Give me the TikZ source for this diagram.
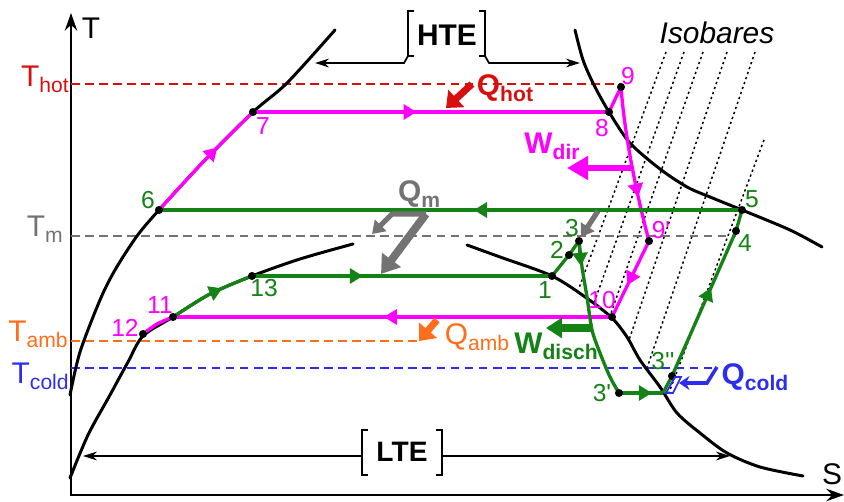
\documentclass[tikz,border=0pt]{standalone}
\usepackage{fontspec}
\setmainfont{Liberation Sans}
\usetikzlibrary{arrows.meta,decorations.markings}

\definecolor{pinkc}{RGB}{255,0,255}
\definecolor{greenc}{RGB}{20,130,20}
\definecolor{hotred}{RGB}{215,15,15}
\definecolor{ambor}{RGB}{255,110,25}
\definecolor{coldbl}{RGB}{45,45,240}
\definecolor{mgray}{RGB}{115,115,115}

\newcommand\bigf{\fontsize{17}{17}\selectfont}
\newcommand\numf{\fontsize{14}{14}\selectfont}
\newcommand\sbs[1]{\raisebox{-0.4ex}{\fontsize{12}{12}\selectfont #1}}
\newcommand\pr{\textquotesingle}

\begin{document}
\begin{tikzpicture}[x=0.2mm, y=-0.2mm,
    every node/.style={font=\bigf, inner sep=0pt},
    curve/.style={line width=1.7pt, line cap=round},
    pinkcyc/.style={pinkc, line width=1.9pt},
    greencyc/.style={greenc, line width=1.9pt},
    level/.style={dash pattern=on 5pt off 3pt, line width=1.4pt},
    isobar/.style={dash pattern=on 1.3pt off 1.7pt, line width=0.85pt},
    midarr/.style={postaction={decorate,decoration={markings,
        mark=at position #1 with {\arrow{Triangle[length=7.5pt,width=8.5pt]}}}}},
    cycarr/.style={-{Triangle[length=7.5pt,width=8.5pt]}},
    num/.style={font=\numf},
    bkt/.style={line width=1.6pt},
    span/.style={line width=1pt, -{Stealth[length=8pt,width=5pt]}}]
    \useasboundingbox (0,0) rectangle (844,502);

    % Isobars
    \foreach \xa/\ya/\xb/\yb in {666/52/579/288, 684/52/594/303, 703/52/610/316,
        727/52/629/340, 755/52/647/368, 764/140/667/398}
        \draw[isobar] (\xa,\ya) -- (\xb,\yb);

    % Axes
    \coordinate (org) at (71,495);
    \coordinate (ytip) at (71,13);
    \coordinate (xtip) at (844,495);
    \draw[line width=1.4pt, {Stealth[length=10pt,width=7pt]}-{Stealth[length=10pt,width=7pt]}]
        (ytip) -- (org) -- (xtip);
    \node (lT) at (91,28) {T};
    \node (lS) at (832,474) {S};

    % Temperature levels
    \draw[level, hotred] (71,84) -- (621,84);
    \draw[level, mgray] (71,236) -- (736,236);
    \draw[level, ambor] (71,341) -- (420,341);
    \draw[level, coldbl] (71,368) -- (717,368);
    \node[anchor=east, hotred] (thot) at (69,79) {T\sbs{hot}};
    \node[anchor=east, mgray] (tm) at (63,229) {T\sbs{m}};
    \node[anchor=east, ambor] (tamb) at (68,334) {T\sbs{amb}};
    \node[anchor=east, coldbl] (tcold) at (69,376) {T\sbs{cold}};

    % Saturation curves
    \draw[curve] plot[smooth] coordinates {(70,395) (80,352) (100,300) (115,270)
        (137,236) (159,210) (205,160) (253,112) (287,83) (335,30)};
    \draw[curve] plot[smooth] coordinates {(575,30) (583,60) (594,85) (609,112)
        (630,143) (660,169) (687,187) (710,197) (742,210) (790,230) (822,247)};
    \draw[curve] plot[smooth] coordinates {(70,478) (88,435) (110,395) (128,362)
        (143,336) (173,317) (210,294) (252,276) (300,259) (353,244)};
    \draw[curve] plot[smooth] coordinates {(467,245) (500,257) (552,276) (588,299)
        (612,318) (627,337) (640,360) (660,387) (677,413) (700,433) (727,453)
        (760,467) (803,476)};

    % State points
    \coordinate (p1) at (552,276);
    \coordinate (p2) at (569,255);
    \coordinate (p3) at (579,241);
    \coordinate (p3a) at (619,393);
    \coordinate (p3c) at (663,393);
    \coordinate (p3b) at (672,376);
    \coordinate (p4) at (736,231);
    \coordinate (p5) at (742,210);
    \coordinate (p6) at (159,210);
    \coordinate (p7) at (253,112);
    \coordinate (p8) at (609,112);
    \coordinate (p9) at (621,87);
    \coordinate (p9b) at (649,241);
    \coordinate (p10) at (612,317);
    \coordinate (p11) at (173,317);
    \coordinate (p12) at (143,334);
    \coordinate (p13) at (252,276);

    % High temperature cycle
    \draw[pinkcyc, midarr=0.63] plot[smooth] coordinates {(159,210) (205,160) (253,112)};
    \draw[pinkcyc, midarr=0.46] (p7) -- (p8);
    \draw[pinkcyc] (p8) -- (p9);
    \draw[pinkcyc, midarr=0.71] (p9) .. controls (625,140) and (638,200) .. (p9b);
    \draw[pinkcyc, midarr=0.58] (p9b) -- (p10);
    \draw[pinkcyc, midarr=0.52] (p10) -- (p11);
    \draw[pinkcyc] plot[smooth] coordinates {(143,334) (157,324) (173,317)};

    % Low temperature cycle
    \draw[greencyc, midarr=0.64] plot[smooth] coordinates {(173,317) (210,294) (252,276)};
    \draw[greencyc, midarr=0.37] (p13) -- (p1);
    \draw[greencyc] (p1) -- (p2) -- (p3);
    \draw[greencyc] plot[smooth] coordinates {(579,241) (582,267) (587,297)
        (592,330) (600,353) (610,377) (619,393)};
    \draw[greencyc, cycarr] (p3) -- (581,266);
    \draw[greencyc, midarr=0.75] (p3a) -- (p3c);
    \draw[greencyc] (p3c) -- (p3b);
    \draw[greencyc, midarr=0.61] (p3b) -- (p4);
    \draw[greencyc] (p4) -- (p5);
    \draw[greencyc, midarr=0.46] (p5) -- (p6);

    \foreach \p in {p1,p2,p3,p3a,p3b,p4,p5,p6,p7,p8,p9,p9b,p10,p11,p12,p13}
        \fill (\p) circle (2.3pt);

    % Point labels
    \node[num, pinkc] (n7) at (263,126) {7};
    \node[num, pinkc] (n8) at (602,128) {8};
    \node[num, pinkc] (n9) at (628,76) {9};
    \node[num, pinkc] (n9b) at (661,230) {9\pr};
    \node[num, pinkc] (n10) at (602,300) {10};
    \node[num, pinkc] (n11) at (160,305) {11};
    \node[num, pinkc] (n12) at (125,328) {12};
    \node[num, greenc] (n6) at (148,200) {6};
    \node[num, greenc] (n13) at (264,288) {13};
    \node[num, greenc] (n1) at (545,290) {1};
    \node[num, greenc] (n2) at (557,250) {2};
    \node[num, greenc] (n3) at (572,228) {3};
    \node[num, greenc] (n3a) at (602,393) {3\pr};
    \node[num, greenc] (n3b) at (663,361) {3\pr\pr};
    \node[num, greenc] (n4) at (745,243) {4};
    \node[num, greenc] (n5) at (752,199) {5};

    % Heat and work arrows
    \coordinate (qh1) at (472,84);  \coordinate (qh2) at (446,108);
    \draw[hotred, line width=4pt, -{Triangle[length=8pt,width=13pt]}] (qh1) -- (qh2);
    \node[hotred, font=\bigf\bfseries] (lqhot) at (505,88) {Q\sbs{hot}};

    \coordinate (qa1) at (437,320);  \coordinate (qa2) at (419,341);
    \draw[ambor, line width=4pt, -{Triangle[length=8pt,width=13pt]}] (qa1) -- (qa2);
    \node[ambor] (lqamb) at (477,337) {Q\sbs{amb}};

    \coordinate (wd1) at (632,168);  \coordinate (wd2) at (567,168);
    \draw[pinkc, line width=3.5pt, -{Triangle[length=12pt,width=13pt]}] (wd1) -- (wd2);
    \node[pinkc, font=\bigf\bfseries] (lwdir) at (552,146) {W\sbs{dir}};

    \coordinate (wc1) at (593,328);  \coordinate (wc2) at (546,328);
    \draw[greenc, line width=4pt, -{Triangle[length=9pt,width=11pt]}] (wc1) -- (wc2);
    \node[greenc, font=\bigf\bfseries] (lwdisch) at (556,346) {W\sbs{disch}};

    \coordinate (qm1) at (426,214);  \coordinate (qm2) at (381,274);
    \coordinate (qm3) at (392,214);  \coordinate (qm4) at (372,234);
    \coordinate (qm5) at (598,211);  \coordinate (qm6) at (581,237);
    \draw[mgray, line width=4.5pt, -{Triangle[length=10pt,width=13pt]}] (qm1) -- (qm2);
    \draw[mgray, line width=3pt, line join=round, -{Triangle[length=7pt,width=9pt]}]
        (qm1) -- (qm3) -- (qm4);
    \draw[mgray, line width=3pt, -{Triangle[length=7pt,width=9pt]}] (qm5) -- (qm6);
    \node[mgray, font=\bigf\bfseries] (lqm) at (419,194) {Q\sbs{m}};

    \coordinate (qc1) at (717,367);  \coordinate (qc2) at (707,383);
    \coordinate (qc3) at (679,383);
    \draw[coldbl, line width=2pt, -{Stealth[length=6pt,width=8pt]}] (qc1) -- (qc2) -- (qc3);
    \draw[coldbl, line width=1pt] (666,393) -- (673,393) -- (681,377) -- (675,377) -- cycle;
    \node[coldbl, font=\bigf\bfseries] (lqcold) at (755,377) {Q\sbs{cold}};

    % Exchanger spans
    \node[font=\bigf\bfseries] (lhte) at (447,35) {HTE};
    \draw[bkt] (414,11) -- (408,11) -- (408,56) -- (414,56);
    \draw[bkt] (479,11) -- (485,11) -- (485,56) -- (479,56);
    \coordinate (hteL) at (315,63);  \coordinate (hteR) at (580,63);
    \draw[span] (408,56) -- (404,63) -- (hteL);
    \draw[span] (485,56) -- (489,63) -- (hteR);

    \node[font=\fontsize{16}{16}\selectfont\bfseries] (llte) at (402,452) {LTE};
    \draw[bkt] (368,430) -- (362,430) -- (362,475) -- (368,475);
    \draw[bkt] (436,430) -- (442,430) -- (442,475) -- (436,475);
    \coordinate (lteL) at (83,456);  \coordinate (lteR) at (730,456);
    \draw[span] (362,456) -- (lteL);
    \draw[span] (442,456) -- (lteR);

    \node[font=\bigf\itshape] (liso) at (717,33) {Isobares};
\end{tikzpicture}
\end{document}
